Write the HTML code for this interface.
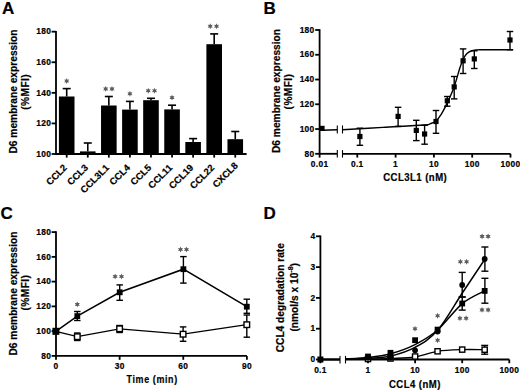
<!DOCTYPE html>
<html><head><meta charset="utf-8"><style>
html,body{margin:0;padding:0;background:#fff;}
svg{display:block;}
text{font-family:"Liberation Sans", sans-serif;font-weight:bold;fill:#000;stroke:#000;stroke-width:0.2px;}
</style></head><body>
<svg width="520" height="390" viewBox="0 0 520 390">
<rect width="520" height="390" fill="#fff"/>
<text x="0" y="0" font-size="17" text-anchor="start" font-weight="bold" transform="translate(2.00,13.60) scale(1.0,1.0)">A</text>
<text x="0" y="0" font-size="17" text-anchor="start" font-weight="bold" transform="translate(263.50,14.20) scale(1.0,1.0)">B</text>
<text x="0" y="0" font-size="17" text-anchor="start" font-weight="bold" transform="translate(0.50,218.90) scale(1.0,1.0)">C</text>
<text x="0" y="0" font-size="17" text-anchor="start" font-weight="bold" transform="translate(263.50,218.80) scale(1.0,1.0)">D</text>
<line x1="56.00" y1="30.88" x2="56.00" y2="154.80" stroke="#000" stroke-width="1.8"/>
<line x1="51.60" y1="154.00" x2="56.00" y2="154.00" stroke="#000" stroke-width="1.8"/>
<text x="0" y="0" font-size="8.4" text-anchor="end" letter-spacing="0.3"  transform="translate(51.10,156.70) scale(1.0,1.0)">100</text>
<line x1="51.60" y1="123.42" x2="56.00" y2="123.42" stroke="#000" stroke-width="1.8"/>
<text x="0" y="0" font-size="8.4" text-anchor="end" letter-spacing="0.3"  transform="translate(51.10,126.12) scale(1.0,1.0)">120</text>
<line x1="51.60" y1="92.84" x2="56.00" y2="92.84" stroke="#000" stroke-width="1.8"/>
<text x="0" y="0" font-size="8.4" text-anchor="end" letter-spacing="0.3"  transform="translate(51.10,95.54) scale(1.0,1.0)">140</text>
<line x1="51.60" y1="62.26" x2="56.00" y2="62.26" stroke="#000" stroke-width="1.8"/>
<text x="0" y="0" font-size="8.4" text-anchor="end" letter-spacing="0.3"  transform="translate(51.10,64.96) scale(1.0,1.0)">160</text>
<line x1="51.60" y1="31.68" x2="56.00" y2="31.68" stroke="#000" stroke-width="1.8"/>
<text x="0" y="0" font-size="8.4" text-anchor="end" letter-spacing="0.3"  transform="translate(51.10,34.38) scale(1.0,1.0)">180</text>
<line x1="56.00" y1="154.00" x2="246.60" y2="154.00" stroke="#000" stroke-width="1.8"/>
<rect x="58.90" y="96.50" width="15.60" height="57.50" fill="#000"/>
<line x1="66.70" y1="96.50" x2="66.70" y2="88.60" stroke="#000" stroke-width="1.6"/>
<line x1="62.70" y1="88.60" x2="70.70" y2="88.60" stroke="#000" stroke-width="1.6"/>
<line x1="66.70" y1="154.00" x2="66.70" y2="157.60" stroke="#000" stroke-width="1.8"/>
<polygon points="66.70,78.05 67.45,79.70 69.25,79.53 68.20,81.00 69.25,82.47 67.45,82.30 66.70,83.95 65.95,82.30 64.15,82.47 65.20,81.00 64.15,79.53 65.95,79.70" fill="#5c5c5c"/>
<text x="0" y="0" font-size="9.5" text-anchor="end" transform="translate(67.60,168.30) rotate(-45)">CCL2</text>
<rect x="79.97" y="151.40" width="15.60" height="2.60" fill="#000"/>
<line x1="87.77" y1="151.40" x2="87.77" y2="143.00" stroke="#000" stroke-width="1.6"/>
<line x1="83.77" y1="143.00" x2="91.77" y2="143.00" stroke="#000" stroke-width="1.6"/>
<line x1="87.77" y1="154.00" x2="87.77" y2="157.60" stroke="#000" stroke-width="1.8"/>
<text x="0" y="0" font-size="9.5" text-anchor="end" transform="translate(88.67,168.30) rotate(-45)">CCL3</text>
<rect x="101.04" y="105.50" width="15.60" height="48.50" fill="#000"/>
<line x1="108.84" y1="105.50" x2="108.84" y2="96.50" stroke="#000" stroke-width="1.6"/>
<line x1="104.84" y1="96.50" x2="112.84" y2="96.50" stroke="#000" stroke-width="1.6"/>
<line x1="108.84" y1="154.00" x2="108.84" y2="157.60" stroke="#000" stroke-width="1.8"/>
<polygon points="105.69,85.95 106.44,87.60 108.24,87.43 107.19,88.90 108.24,90.38 106.44,90.20 105.69,91.85 104.94,90.20 103.14,90.38 104.19,88.90 103.14,87.43 104.94,87.60" fill="#5c5c5c"/>
<polygon points="111.99,85.95 112.74,87.60 114.54,87.43 113.49,88.90 114.54,90.38 112.74,90.20 111.99,91.85 111.24,90.20 109.44,90.38 110.49,88.90 109.44,87.43 111.24,87.60" fill="#5c5c5c"/>
<text x="0" y="0" font-size="9.5" text-anchor="end" transform="translate(109.74,168.30) rotate(-45)">CCL3L1</text>
<rect x="122.11" y="109.60" width="15.60" height="44.40" fill="#000"/>
<line x1="129.91" y1="109.60" x2="129.91" y2="101.40" stroke="#000" stroke-width="1.6"/>
<line x1="125.91" y1="101.40" x2="133.91" y2="101.40" stroke="#000" stroke-width="1.6"/>
<line x1="129.91" y1="154.00" x2="129.91" y2="157.60" stroke="#000" stroke-width="1.8"/>
<polygon points="129.91,90.85 130.66,92.50 132.46,92.33 131.41,93.80 132.46,95.28 130.66,95.10 129.91,96.75 129.16,95.10 127.36,95.28 128.41,93.80 127.36,92.33 129.16,92.50" fill="#5c5c5c"/>
<text x="0" y="0" font-size="9.5" text-anchor="end" transform="translate(130.81,168.30) rotate(-45)">CCL4</text>
<rect x="143.18" y="100.20" width="15.60" height="53.80" fill="#000"/>
<line x1="150.98" y1="100.20" x2="150.98" y2="98.30" stroke="#000" stroke-width="1.6"/>
<line x1="146.98" y1="98.30" x2="154.98" y2="98.30" stroke="#000" stroke-width="1.6"/>
<line x1="150.98" y1="154.00" x2="150.98" y2="157.60" stroke="#000" stroke-width="1.8"/>
<polygon points="148.23,87.75 148.98,89.40 150.78,89.23 149.73,90.70 150.78,92.17 148.98,92.00 148.23,93.65 147.48,92.00 145.68,92.17 146.73,90.70 145.68,89.23 147.48,89.40" fill="#5c5c5c"/>
<polygon points="154.53,87.75 155.28,89.40 157.08,89.23 156.03,90.70 157.08,92.17 155.28,92.00 154.53,93.65 153.78,92.00 151.98,92.17 153.03,90.70 151.98,89.23 153.78,89.40" fill="#5c5c5c"/>
<text x="0" y="0" font-size="9.5" text-anchor="end" transform="translate(151.88,168.30) rotate(-45)">CCL5</text>
<rect x="164.25" y="109.40" width="15.60" height="44.60" fill="#000"/>
<line x1="172.05" y1="109.40" x2="172.05" y2="105.20" stroke="#000" stroke-width="1.6"/>
<line x1="168.05" y1="105.20" x2="176.05" y2="105.20" stroke="#000" stroke-width="1.6"/>
<line x1="172.05" y1="154.00" x2="172.05" y2="157.60" stroke="#000" stroke-width="1.8"/>
<polygon points="172.05,94.65 172.80,96.30 174.60,96.13 173.55,97.60 174.60,99.08 172.80,98.90 172.05,100.55 171.30,98.90 169.50,99.08 170.55,97.60 169.50,96.13 171.30,96.30" fill="#5c5c5c"/>
<text x="0" y="0" font-size="9.5" text-anchor="end" transform="translate(172.95,168.30) rotate(-45)">CCL11</text>
<rect x="185.32" y="142.00" width="15.60" height="12.00" fill="#000"/>
<line x1="193.12" y1="142.00" x2="193.12" y2="138.60" stroke="#000" stroke-width="1.6"/>
<line x1="189.12" y1="138.60" x2="197.12" y2="138.60" stroke="#000" stroke-width="1.6"/>
<line x1="193.12" y1="154.00" x2="193.12" y2="157.60" stroke="#000" stroke-width="1.8"/>
<text x="0" y="0" font-size="9.5" text-anchor="end" transform="translate(194.02,168.30) rotate(-45)">CCL19</text>
<rect x="206.39" y="44.20" width="15.60" height="109.80" fill="#000"/>
<line x1="214.19" y1="44.20" x2="214.19" y2="33.90" stroke="#000" stroke-width="1.6"/>
<line x1="210.19" y1="33.90" x2="218.19" y2="33.90" stroke="#000" stroke-width="1.6"/>
<line x1="214.19" y1="154.00" x2="214.19" y2="157.60" stroke="#000" stroke-width="1.8"/>
<polygon points="210.24,23.35 210.99,25.00 212.79,24.82 211.74,26.30 212.79,27.77 210.99,27.60 210.24,29.25 209.49,27.60 207.69,27.77 208.74,26.30 207.69,24.82 209.49,25.00" fill="#5c5c5c"/>
<polygon points="216.54,23.35 217.29,25.00 219.09,24.82 218.04,26.30 219.09,27.77 217.29,27.60 216.54,29.25 215.79,27.60 213.99,27.77 215.04,26.30 213.99,24.82 215.79,25.00" fill="#5c5c5c"/>
<text x="0" y="0" font-size="9.5" text-anchor="end" transform="translate(215.09,168.30) rotate(-45)">CCL22</text>
<rect x="227.46" y="139.20" width="15.60" height="14.80" fill="#000"/>
<line x1="235.26" y1="139.20" x2="235.26" y2="131.50" stroke="#000" stroke-width="1.6"/>
<line x1="231.26" y1="131.50" x2="239.26" y2="131.50" stroke="#000" stroke-width="1.6"/>
<line x1="235.26" y1="154.00" x2="235.26" y2="157.60" stroke="#000" stroke-width="1.8"/>
<text x="0" y="0" font-size="9.5" text-anchor="end" transform="translate(238.46,166.30) rotate(-45)">CXCL8</text>
<text x="0" y="0" font-size="10.2" text-anchor="middle" transform="translate(17.00,91.50) rotate(-90) scale(1,1.0)">D6 membrane expression</text>
<text x="0" y="0" font-size="10.2" text-anchor="middle" letter-spacing="0.4" transform="translate(29.30,91.80) rotate(-90) scale(1,1.0)">(%MFI)</text>
<line x1="319.60" y1="29.20" x2="319.60" y2="154.60" stroke="#000" stroke-width="1.8"/>
<line x1="315.20" y1="153.80" x2="319.60" y2="153.80" stroke="#000" stroke-width="1.8"/>
<text x="0" y="0" font-size="8.4" text-anchor="end" letter-spacing="0.3"  transform="translate(314.50,156.50) scale(1.0,1.0)">80</text>
<line x1="315.20" y1="129.04" x2="319.60" y2="129.04" stroke="#000" stroke-width="1.8"/>
<text x="0" y="0" font-size="8.4" text-anchor="end" letter-spacing="0.3"  transform="translate(314.50,131.74) scale(1.0,1.0)">100</text>
<line x1="315.20" y1="104.28" x2="319.60" y2="104.28" stroke="#000" stroke-width="1.8"/>
<text x="0" y="0" font-size="8.4" text-anchor="end" letter-spacing="0.3"  transform="translate(314.50,106.98) scale(1.0,1.0)">120</text>
<line x1="315.20" y1="79.52" x2="319.60" y2="79.52" stroke="#000" stroke-width="1.8"/>
<text x="0" y="0" font-size="8.4" text-anchor="end" letter-spacing="0.3"  transform="translate(314.50,82.22) scale(1.0,1.0)">140</text>
<line x1="315.20" y1="54.76" x2="319.60" y2="54.76" stroke="#000" stroke-width="1.8"/>
<text x="0" y="0" font-size="8.4" text-anchor="end" letter-spacing="0.3"  transform="translate(314.50,57.46) scale(1.0,1.0)">160</text>
<line x1="315.20" y1="30.00" x2="319.60" y2="30.00" stroke="#000" stroke-width="1.8"/>
<text x="0" y="0" font-size="8.4" text-anchor="end" letter-spacing="0.3"  transform="translate(314.50,32.70) scale(1.0,1.0)">180</text>
<line x1="319.60" y1="153.80" x2="337.30" y2="153.80" stroke="#000" stroke-width="1.8"/>
<line x1="342.50" y1="153.80" x2="510.50" y2="153.80" stroke="#000" stroke-width="1.8"/>
<line x1="337.30" y1="150.10" x2="337.30" y2="157.60" stroke="#000" stroke-width="1.1"/>
<line x1="342.50" y1="150.10" x2="342.50" y2="157.60" stroke="#000" stroke-width="1.1"/>
<line x1="319.60" y1="153.80" x2="319.60" y2="157.60" stroke="#000" stroke-width="1.8"/>
<text x="0" y="0" font-size="8.4" text-anchor="middle" letter-spacing="0.3"  transform="translate(319.60,166.90) scale(1.0,1.0)">0.01</text>
<line x1="357.30" y1="153.80" x2="357.30" y2="157.60" stroke="#000" stroke-width="1.8"/>
<text x="0" y="0" font-size="8.4" text-anchor="middle" letter-spacing="0.3"  transform="translate(357.30,166.90) scale(1.0,1.0)">0.1</text>
<line x1="395.60" y1="153.80" x2="395.60" y2="157.60" stroke="#000" stroke-width="1.8"/>
<text x="0" y="0" font-size="8.4" text-anchor="middle" letter-spacing="0.3"  transform="translate(395.60,166.90) scale(1.0,1.0)">1</text>
<line x1="433.90" y1="153.80" x2="433.90" y2="157.60" stroke="#000" stroke-width="1.8"/>
<text x="0" y="0" font-size="8.4" text-anchor="middle" letter-spacing="0.3"  transform="translate(433.90,166.90) scale(1.0,1.0)">10</text>
<line x1="472.20" y1="153.80" x2="472.20" y2="157.60" stroke="#000" stroke-width="1.8"/>
<text x="0" y="0" font-size="8.4" text-anchor="middle" letter-spacing="0.3"  transform="translate(472.20,166.90) scale(1.0,1.0)">100</text>
<line x1="510.50" y1="153.80" x2="510.50" y2="157.60" stroke="#000" stroke-width="1.8"/>
<text x="0" y="0" font-size="8.4" text-anchor="middle" letter-spacing="0.3"  transform="translate(510.50,166.90) scale(1.0,1.0)">1000</text>
<text x="0" y="0" font-size="10.3" text-anchor="middle" letter-spacing="0.5"  transform="translate(415.20,181.20) scale(0.93,1.0)">CCL3L1 (nM)</text>
<text x="0" y="0" font-size="10.2" text-anchor="middle" transform="translate(279.80,91.00) rotate(-90) scale(1,1.0)">D6 membrane expression</text>
<text x="0" y="0" font-size="10.2" text-anchor="middle" letter-spacing="0.4" transform="translate(292.20,91.50) rotate(-90) scale(1,1.0)">(%MFI)</text>
<path d="M322,130.2 L337.3,129.8" stroke="#000" stroke-width="1.4" fill="none"/>
<path d="M342.50,129.80 C349.25,129.40 369.42,128.20 383.00,127.40 C396.58,126.60 416.08,125.63 424.00,125.00 C431.92,124.37 428.50,124.27 430.50,123.60 C432.50,122.93 434.17,122.63 436.00,121.00 C437.83,119.37 439.67,116.73 441.50,113.80 C443.33,110.87 444.92,107.83 447.00,103.40 C449.08,98.97 451.83,93.18 454.00,87.20 C456.17,81.22 458.42,72.28 460.00,67.50 C461.58,62.72 462.33,60.82 463.50,58.50 C464.67,56.18 465.75,54.85 467.00,53.60 C468.25,52.35 469.50,51.62 471.00,51.00 C472.50,50.38 473.83,50.12 476.00,49.90 C478.17,49.68 477.83,49.73 484.00,49.70 C490.17,49.67 508.17,49.70 513.00,49.70" stroke="#000" stroke-width="1.4" fill="none"/>
<line x1="337.30" y1="125.40" x2="337.30" y2="133.50" stroke="#000" stroke-width="1.1"/>
<line x1="342.50" y1="125.40" x2="342.50" y2="133.50" stroke="#000" stroke-width="1.1"/>
<line x1="359.90" y1="128.20" x2="359.90" y2="145.30" stroke="#000" stroke-width="1.4"/>
<line x1="356.65" y1="128.20" x2="363.15" y2="128.20" stroke="#000" stroke-width="1.4"/>
<line x1="356.65" y1="145.30" x2="363.15" y2="145.30" stroke="#000" stroke-width="1.4"/>
<rect x="357.30" y="133.90" width="5.20" height="5.20" fill="#000"/>
<line x1="398.10" y1="107.30" x2="398.10" y2="126.40" stroke="#000" stroke-width="1.4"/>
<line x1="394.85" y1="107.30" x2="401.35" y2="107.30" stroke="#000" stroke-width="1.4"/>
<line x1="394.85" y1="126.40" x2="401.35" y2="126.40" stroke="#000" stroke-width="1.4"/>
<rect x="395.50" y="113.80" width="5.20" height="5.20" fill="#000"/>
<line x1="416.30" y1="120.30" x2="416.30" y2="140.60" stroke="#000" stroke-width="1.4"/>
<line x1="413.05" y1="120.30" x2="419.55" y2="120.30" stroke="#000" stroke-width="1.4"/>
<line x1="413.05" y1="140.60" x2="419.55" y2="140.60" stroke="#000" stroke-width="1.4"/>
<rect x="413.70" y="127.80" width="5.20" height="5.20" fill="#000"/>
<line x1="424.60" y1="125.30" x2="424.60" y2="144.20" stroke="#000" stroke-width="1.4"/>
<line x1="421.35" y1="125.30" x2="427.85" y2="125.30" stroke="#000" stroke-width="1.4"/>
<line x1="421.35" y1="144.20" x2="427.85" y2="144.20" stroke="#000" stroke-width="1.4"/>
<rect x="422.00" y="131.40" width="5.20" height="5.20" fill="#000"/>
<line x1="436.00" y1="110.50" x2="436.00" y2="133.30" stroke="#000" stroke-width="1.4"/>
<line x1="432.75" y1="110.50" x2="439.25" y2="110.50" stroke="#000" stroke-width="1.4"/>
<line x1="432.75" y1="133.30" x2="439.25" y2="133.30" stroke="#000" stroke-width="1.4"/>
<rect x="433.40" y="118.90" width="5.20" height="5.20" fill="#000"/>
<line x1="447.30" y1="96.50" x2="447.30" y2="106.20" stroke="#000" stroke-width="1.4"/>
<line x1="444.05" y1="96.50" x2="450.55" y2="96.50" stroke="#000" stroke-width="1.4"/>
<line x1="444.05" y1="106.20" x2="450.55" y2="106.20" stroke="#000" stroke-width="1.4"/>
<rect x="444.70" y="98.20" width="5.20" height="5.20" fill="#000"/>
<line x1="454.20" y1="76.50" x2="454.20" y2="98.90" stroke="#000" stroke-width="1.4"/>
<line x1="450.95" y1="76.50" x2="457.45" y2="76.50" stroke="#000" stroke-width="1.4"/>
<line x1="450.95" y1="98.90" x2="457.45" y2="98.90" stroke="#000" stroke-width="1.4"/>
<rect x="451.60" y="84.30" width="5.20" height="5.20" fill="#000"/>
<line x1="463.10" y1="48.90" x2="463.10" y2="73.50" stroke="#000" stroke-width="1.4"/>
<line x1="459.85" y1="48.90" x2="466.35" y2="48.90" stroke="#000" stroke-width="1.4"/>
<line x1="459.85" y1="73.50" x2="466.35" y2="73.50" stroke="#000" stroke-width="1.4"/>
<rect x="460.50" y="58.20" width="5.20" height="5.20" fill="#000"/>
<line x1="474.30" y1="50.80" x2="474.30" y2="68.50" stroke="#000" stroke-width="1.4"/>
<line x1="471.05" y1="50.80" x2="477.55" y2="50.80" stroke="#000" stroke-width="1.4"/>
<line x1="471.05" y1="68.50" x2="477.55" y2="68.50" stroke="#000" stroke-width="1.4"/>
<rect x="471.70" y="56.30" width="5.20" height="5.20" fill="#000"/>
<line x1="510.00" y1="31.50" x2="510.00" y2="49.70" stroke="#000" stroke-width="1.4"/>
<line x1="506.75" y1="31.50" x2="513.25" y2="31.50" stroke="#000" stroke-width="1.4"/>
<line x1="506.75" y1="49.70" x2="513.25" y2="49.70" stroke="#000" stroke-width="1.4"/>
<rect x="507.40" y="37.40" width="5.20" height="5.20" fill="#000"/>
<rect x="319.40" y="125.80" width="5.20" height="5.20" fill="#000"/>
<line x1="56.00" y1="231.30" x2="56.00" y2="356.70" stroke="#000" stroke-width="1.8"/>
<line x1="51.60" y1="355.90" x2="56.00" y2="355.90" stroke="#000" stroke-width="1.8"/>
<text x="0" y="0" font-size="8.4" text-anchor="end" letter-spacing="0.3"  transform="translate(51.20,358.60) scale(1.0,1.0)">80</text>
<line x1="51.60" y1="331.14" x2="56.00" y2="331.14" stroke="#000" stroke-width="1.8"/>
<text x="0" y="0" font-size="8.4" text-anchor="end" letter-spacing="0.3"  transform="translate(51.20,333.84) scale(1.0,1.0)">100</text>
<line x1="51.60" y1="306.38" x2="56.00" y2="306.38" stroke="#000" stroke-width="1.8"/>
<text x="0" y="0" font-size="8.4" text-anchor="end" letter-spacing="0.3"  transform="translate(51.20,309.08) scale(1.0,1.0)">120</text>
<line x1="51.60" y1="281.62" x2="56.00" y2="281.62" stroke="#000" stroke-width="1.8"/>
<text x="0" y="0" font-size="8.4" text-anchor="end" letter-spacing="0.3"  transform="translate(51.20,284.32) scale(1.0,1.0)">140</text>
<line x1="51.60" y1="256.86" x2="56.00" y2="256.86" stroke="#000" stroke-width="1.8"/>
<text x="0" y="0" font-size="8.4" text-anchor="end" letter-spacing="0.3"  transform="translate(51.20,259.56) scale(1.0,1.0)">160</text>
<line x1="51.60" y1="232.10" x2="56.00" y2="232.10" stroke="#000" stroke-width="1.8"/>
<text x="0" y="0" font-size="8.4" text-anchor="end" letter-spacing="0.3"  transform="translate(51.20,234.80) scale(1.0,1.0)">180</text>
<line x1="56.00" y1="355.90" x2="246.90" y2="355.90" stroke="#000" stroke-width="1.8"/>
<line x1="56.00" y1="355.90" x2="56.00" y2="359.80" stroke="#000" stroke-width="1.8"/>
<text x="0" y="0" font-size="8.4" text-anchor="middle" letter-spacing="0.3"  transform="translate(56.00,369.00) scale(1.0,1.0)">0</text>
<line x1="119.63" y1="355.90" x2="119.63" y2="359.80" stroke="#000" stroke-width="1.8"/>
<text x="0" y="0" font-size="8.4" text-anchor="middle" letter-spacing="0.3"  transform="translate(119.63,369.00) scale(1.0,1.0)">30</text>
<line x1="183.27" y1="355.90" x2="183.27" y2="359.80" stroke="#000" stroke-width="1.8"/>
<text x="0" y="0" font-size="8.4" text-anchor="middle" letter-spacing="0.3"  transform="translate(183.27,369.00) scale(1.0,1.0)">60</text>
<line x1="246.90" y1="355.90" x2="246.90" y2="359.80" stroke="#000" stroke-width="1.8"/>
<text x="0" y="0" font-size="8.4" text-anchor="middle" letter-spacing="0.3"  transform="translate(246.90,369.00) scale(1.0,1.0)">90</text>
<text x="0" y="0" font-size="10.4" text-anchor="middle" letter-spacing="0.72"  transform="translate(152.20,383.10) scale(0.86,1.0)">Time (min)</text>
<text x="0" y="0" font-size="10.2" text-anchor="middle" transform="translate(17.00,293.50) rotate(-90) scale(1,1.0)">D6 membrane expression</text>
<text x="0" y="0" font-size="10.2" text-anchor="middle" letter-spacing="0.4" transform="translate(29.30,292.60) rotate(-90) scale(1,1.0)">(%MFI)</text>
<polyline points="55.9,331.3 77.3,336.7 119.6,328.8 183.1,334.2 246.8,324.7" stroke="#000" stroke-width="1.3" fill="none"/>
<polyline points="55.9,331.3 77.3,316.1 119.7,292.3 183.4,269.2 246.8,306.7" stroke="#000" stroke-width="1.5" fill="none"/>
<line x1="77.30" y1="333.00" x2="77.30" y2="340.50" stroke="#000" stroke-width="1.4"/>
<line x1="74.05" y1="333.00" x2="80.55" y2="333.00" stroke="#000" stroke-width="1.4"/>
<line x1="74.05" y1="340.50" x2="80.55" y2="340.50" stroke="#000" stroke-width="1.4"/>
<line x1="119.60" y1="325.50" x2="119.60" y2="332.50" stroke="#000" stroke-width="1.4"/>
<line x1="116.35" y1="325.50" x2="122.85" y2="325.50" stroke="#000" stroke-width="1.4"/>
<line x1="116.35" y1="332.50" x2="122.85" y2="332.50" stroke="#000" stroke-width="1.4"/>
<line x1="183.10" y1="326.90" x2="183.10" y2="341.30" stroke="#000" stroke-width="1.4"/>
<line x1="179.85" y1="326.90" x2="186.35" y2="326.90" stroke="#000" stroke-width="1.4"/>
<line x1="179.85" y1="341.30" x2="186.35" y2="341.30" stroke="#000" stroke-width="1.4"/>
<line x1="246.80" y1="315.00" x2="246.80" y2="337.20" stroke="#000" stroke-width="1.4"/>
<line x1="243.55" y1="315.00" x2="250.05" y2="315.00" stroke="#000" stroke-width="1.4"/>
<line x1="243.55" y1="337.20" x2="250.05" y2="337.20" stroke="#000" stroke-width="1.4"/>
<line x1="77.30" y1="311.50" x2="77.30" y2="320.50" stroke="#000" stroke-width="1.4"/>
<line x1="74.05" y1="311.50" x2="80.55" y2="311.50" stroke="#000" stroke-width="1.4"/>
<line x1="74.05" y1="320.50" x2="80.55" y2="320.50" stroke="#000" stroke-width="1.4"/>
<line x1="119.70" y1="284.90" x2="119.70" y2="300.30" stroke="#000" stroke-width="1.4"/>
<line x1="116.45" y1="284.90" x2="122.95" y2="284.90" stroke="#000" stroke-width="1.4"/>
<line x1="116.45" y1="300.30" x2="122.95" y2="300.30" stroke="#000" stroke-width="1.4"/>
<line x1="183.40" y1="256.60" x2="183.40" y2="283.10" stroke="#000" stroke-width="1.4"/>
<line x1="180.15" y1="256.60" x2="186.65" y2="256.60" stroke="#000" stroke-width="1.4"/>
<line x1="180.15" y1="283.10" x2="186.65" y2="283.10" stroke="#000" stroke-width="1.4"/>
<line x1="246.80" y1="299.20" x2="246.80" y2="313.30" stroke="#000" stroke-width="1.4"/>
<line x1="243.55" y1="299.20" x2="250.05" y2="299.20" stroke="#000" stroke-width="1.4"/>
<line x1="243.55" y1="313.30" x2="250.05" y2="313.30" stroke="#000" stroke-width="1.4"/>
<rect x="53.10" y="328.50" width="5.60" height="5.60" fill="#fff" stroke="#000" stroke-width="1.4"/>
<rect x="74.50" y="333.90" width="5.60" height="5.60" fill="#fff" stroke="#000" stroke-width="1.4"/>
<rect x="116.80" y="326.00" width="5.60" height="5.60" fill="#fff" stroke="#000" stroke-width="1.4"/>
<rect x="180.30" y="331.40" width="5.60" height="5.60" fill="#fff" stroke="#000" stroke-width="1.4"/>
<rect x="244.00" y="321.90" width="5.60" height="5.60" fill="#fff" stroke="#000" stroke-width="1.4"/>
<rect x="53.00" y="328.40" width="5.80" height="5.80" fill="#000"/>
<rect x="74.40" y="313.20" width="5.80" height="5.80" fill="#000"/>
<rect x="116.80" y="289.40" width="5.80" height="5.80" fill="#000"/>
<rect x="180.50" y="266.30" width="5.80" height="5.80" fill="#000"/>
<rect x="243.90" y="303.80" width="5.80" height="5.80" fill="#000"/>
<polygon points="77.30,301.45 78.05,303.10 79.85,302.92 78.80,304.40 79.85,305.88 78.05,305.70 77.30,307.35 76.55,305.70 74.75,305.88 75.80,304.40 74.75,302.92 76.55,303.10" fill="#5c5c5c"/>
<polygon points="115.10,273.55 115.85,275.20 117.65,275.02 116.60,276.50 117.65,277.98 115.85,277.80 115.10,279.45 114.35,277.80 112.55,277.98 113.60,276.50 112.55,275.02 114.35,275.20" fill="#5c5c5c"/>
<polygon points="121.50,273.55 122.25,275.20 124.05,275.02 123.00,276.50 124.05,277.98 122.25,277.80 121.50,279.45 120.75,277.80 118.95,277.98 120.00,276.50 118.95,275.02 120.75,275.20" fill="#5c5c5c"/>
<polygon points="180.50,246.55 181.25,248.20 183.05,248.03 182.00,249.50 183.05,250.97 181.25,250.80 180.50,252.45 179.75,250.80 177.95,250.97 179.00,249.50 177.95,248.03 179.75,248.20" fill="#5c5c5c"/>
<polygon points="186.50,246.55 187.25,248.20 189.05,248.03 188.00,249.50 189.05,250.97 187.25,250.80 186.50,252.45 185.75,250.80 183.95,250.97 185.00,249.50 183.95,248.03 185.75,248.20" fill="#5c5c5c"/>
<line x1="320.40" y1="235.50" x2="320.40" y2="360.30" stroke="#000" stroke-width="1.8"/>
<line x1="316.00" y1="359.50" x2="320.40" y2="359.50" stroke="#000" stroke-width="1.8"/>
<text x="0" y="0" font-size="8.4" text-anchor="end" letter-spacing="0.3"  transform="translate(315.40,362.20) scale(1.0,1.0)">0</text>
<line x1="316.00" y1="328.70" x2="320.40" y2="328.70" stroke="#000" stroke-width="1.8"/>
<text x="0" y="0" font-size="8.4" text-anchor="end" letter-spacing="0.3"  transform="translate(315.40,331.40) scale(1.0,1.0)">1</text>
<line x1="316.00" y1="297.90" x2="320.40" y2="297.90" stroke="#000" stroke-width="1.8"/>
<text x="0" y="0" font-size="8.4" text-anchor="end" letter-spacing="0.3"  transform="translate(315.40,300.60) scale(1.0,1.0)">2</text>
<line x1="316.00" y1="267.10" x2="320.40" y2="267.10" stroke="#000" stroke-width="1.8"/>
<text x="0" y="0" font-size="8.4" text-anchor="end" letter-spacing="0.3"  transform="translate(315.40,269.80) scale(1.0,1.0)">3</text>
<line x1="316.00" y1="236.30" x2="320.40" y2="236.30" stroke="#000" stroke-width="1.8"/>
<text x="0" y="0" font-size="8.4" text-anchor="end" letter-spacing="0.3"  transform="translate(315.40,239.00) scale(1.0,1.0)">4</text>
<line x1="320.40" y1="359.50" x2="340.00" y2="359.50" stroke="#000" stroke-width="1.8"/>
<line x1="345.30" y1="359.50" x2="509.30" y2="359.50" stroke="#000" stroke-width="1.8"/>
<line x1="340.00" y1="355.90" x2="340.00" y2="363.50" stroke="#000" stroke-width="1.1"/>
<line x1="345.50" y1="355.90" x2="345.50" y2="363.50" stroke="#000" stroke-width="1.1"/>
<line x1="320.40" y1="359.50" x2="320.40" y2="363.20" stroke="#000" stroke-width="1.8"/>
<text x="0" y="0" font-size="8.4" text-anchor="middle" letter-spacing="0.3"  transform="translate(320.40,373.00) scale(1.0,1.0)">0.1</text>
<line x1="368.00" y1="359.50" x2="368.00" y2="363.20" stroke="#000" stroke-width="1.8"/>
<text x="0" y="0" font-size="8.4" text-anchor="middle" letter-spacing="0.3"  transform="translate(368.00,373.00) scale(1.0,1.0)">1</text>
<line x1="415.10" y1="359.50" x2="415.10" y2="363.20" stroke="#000" stroke-width="1.8"/>
<text x="0" y="0" font-size="8.4" text-anchor="middle" letter-spacing="0.3"  transform="translate(415.10,373.00) scale(1.0,1.0)">10</text>
<line x1="462.20" y1="359.50" x2="462.20" y2="363.20" stroke="#000" stroke-width="1.8"/>
<text x="0" y="0" font-size="8.4" text-anchor="middle" letter-spacing="0.3"  transform="translate(462.20,373.00) scale(1.0,1.0)">100</text>
<line x1="509.30" y1="359.50" x2="509.30" y2="363.20" stroke="#000" stroke-width="1.8"/>
<text x="0" y="0" font-size="8.4" text-anchor="middle" letter-spacing="0.3"  transform="translate(509.30,373.00) scale(1.0,1.0)">1000</text>
<text x="0" y="0" font-size="10.3" text-anchor="middle" letter-spacing="0.5"  transform="translate(414.90,387.80) scale(0.93,1.0)">CCL4 (nM)</text>
<text x="0" y="0" font-size="10.2" text-anchor="middle" transform="translate(284.30,297.70) rotate(-90) scale(1,1.0)">CCL4 degradation rate</text>
<text x="0" y="0" font-size="10.2" text-anchor="middle" transform="translate(297.90,297.30) rotate(-90) scale(1,1.0)">(nmol/s x 10<tspan font-size="7" dy="-5.3">-8</tspan><tspan dy="5.3">)</tspan></text>
<path d="M345.30,359.20 C349.08,359.07 360.47,358.93 368.00,358.40 C375.53,357.87 382.67,357.85 390.50,356.00 C398.33,354.15 407.15,351.58 415.00,347.30 C422.85,343.02 429.77,339.27 437.60,330.30 C445.43,321.33 454.10,305.38 462.00,293.50 C469.90,281.62 481.17,264.75 485.00,259.00" stroke="#000" stroke-width="1.5" fill="none"/>
<path d="M345.30,359.00 C349.08,358.77 360.47,358.47 368.00,357.60 C375.53,356.73 382.67,355.97 390.50,353.80 C398.33,351.63 407.15,348.57 415.00,344.60 C422.85,340.63 429.72,336.83 437.60,330.00 C445.48,323.17 454.43,310.13 462.30,303.60 C470.17,297.07 481.05,292.93 484.80,290.80" stroke="#000" stroke-width="1.5" fill="none"/>
<path d="M345.30,359.40 C349.08,359.37 360.47,359.35 368.00,359.20 C375.53,359.05 382.67,358.87 390.50,358.50 C398.33,358.13 407.15,358.20 415.00,357.00 C422.85,355.80 429.72,352.53 437.60,351.30 C445.48,350.07 454.45,349.87 462.30,349.60 C470.15,349.33 480.97,349.68 484.70,349.70" stroke="#000" stroke-width="1.3" fill="none"/>
<path d="M320.4,359.5 L340,359.5" stroke="#000" stroke-width="2.2"/>
<line x1="462.20" y1="272.40" x2="462.20" y2="297.00" stroke="#000" stroke-width="1.4"/>
<line x1="458.70" y1="272.40" x2="465.70" y2="272.40" stroke="#000" stroke-width="1.4"/>
<line x1="458.70" y1="297.00" x2="465.70" y2="297.00" stroke="#000" stroke-width="1.4"/>
<line x1="484.90" y1="247.00" x2="484.90" y2="271.20" stroke="#000" stroke-width="1.4"/>
<line x1="481.40" y1="247.00" x2="488.40" y2="247.00" stroke="#000" stroke-width="1.4"/>
<line x1="481.40" y1="271.20" x2="488.40" y2="271.20" stroke="#000" stroke-width="1.4"/>
<line x1="462.20" y1="297.00" x2="462.20" y2="310.10" stroke="#000" stroke-width="1.4"/>
<line x1="458.70" y1="297.00" x2="465.70" y2="297.00" stroke="#000" stroke-width="1.4"/>
<line x1="458.70" y1="310.10" x2="465.70" y2="310.10" stroke="#000" stroke-width="1.4"/>
<line x1="484.90" y1="278.30" x2="484.90" y2="303.20" stroke="#000" stroke-width="1.4"/>
<line x1="481.40" y1="278.30" x2="488.40" y2="278.30" stroke="#000" stroke-width="1.4"/>
<line x1="481.40" y1="303.20" x2="488.40" y2="303.20" stroke="#000" stroke-width="1.4"/>
<line x1="484.70" y1="345.40" x2="484.70" y2="354.20" stroke="#000" stroke-width="1.4"/>
<line x1="481.20" y1="345.40" x2="488.20" y2="345.40" stroke="#000" stroke-width="1.4"/>
<line x1="481.20" y1="354.20" x2="488.20" y2="354.20" stroke="#000" stroke-width="1.4"/>
<rect x="365.40" y="356.40" width="5.20" height="5.20" fill="#fff" stroke="#000" stroke-width="1.4"/>
<rect x="387.87" y="355.90" width="5.20" height="5.20" fill="#fff" stroke="#000" stroke-width="1.4"/>
<rect x="412.50" y="353.90" width="5.20" height="5.20" fill="#fff" stroke="#000" stroke-width="1.4"/>
<rect x="434.97" y="348.70" width="5.20" height="5.20" fill="#fff" stroke="#000" stroke-width="1.4"/>
<rect x="459.60" y="347.00" width="5.20" height="5.20" fill="#fff" stroke="#000" stroke-width="1.4"/>
<rect x="482.07" y="347.10" width="5.20" height="5.20" fill="#fff" stroke="#000" stroke-width="1.4"/>
<circle cx="368.00" cy="357.80" r="2.9" fill="#000"/>
<circle cx="390.47" cy="357.80" r="2.9" fill="#000"/>
<circle cx="415.10" cy="350.30" r="2.9" fill="#000"/>
<circle cx="437.57" cy="331.60" r="2.9" fill="#000"/>
<circle cx="462.20" cy="285.00" r="2.9" fill="#000"/>
<circle cx="484.67" cy="259.00" r="2.9" fill="#000"/>
<rect x="365.10" y="353.60" width="5.80" height="5.80" fill="#000"/>
<rect x="387.57" y="349.90" width="5.80" height="5.80" fill="#000"/>
<rect x="412.20" y="337.30" width="5.80" height="5.80" fill="#000"/>
<rect x="434.67" y="326.70" width="5.80" height="5.80" fill="#000"/>
<rect x="459.30" y="300.60" width="5.80" height="5.80" fill="#000"/>
<rect x="481.77" y="288.00" width="5.80" height="5.80" fill="#000"/>
<rect x="317.40" y="356.50" width="6.00" height="6.00" fill="#000"/>
<polygon points="415.00,325.75 415.75,327.40 417.55,327.22 416.50,328.70 417.55,330.18 415.75,330.00 415.00,331.65 414.25,330.00 412.45,330.18 413.50,328.70 412.45,327.22 414.25,327.40" fill="#5c5c5c"/>
<polygon points="437.60,312.85 438.35,314.50 440.15,314.32 439.10,315.80 440.15,317.28 438.35,317.10 437.60,318.75 436.85,317.10 435.05,317.28 436.10,315.80 435.05,314.32 436.85,314.50" fill="#5c5c5c"/>
<polygon points="437.60,337.35 438.35,339.00 440.15,338.82 439.10,340.30 440.15,341.78 438.35,341.60 437.60,343.25 436.85,341.60 435.05,341.78 436.10,340.30 435.05,338.82 436.85,339.00" fill="#5c5c5c"/>
<polygon points="460.40,258.85 461.15,260.50 462.95,260.32 461.90,261.80 462.95,263.28 461.15,263.10 460.40,264.75 459.65,263.10 457.85,263.28 458.90,261.80 457.85,260.32 459.65,260.50" fill="#5c5c5c"/>
<polygon points="466.60,258.85 467.35,260.50 469.15,260.32 468.10,261.80 469.15,263.28 467.35,263.10 466.60,264.75 465.85,263.10 464.05,263.28 465.10,261.80 464.05,260.32 465.85,260.50" fill="#5c5c5c"/>
<polygon points="459.90,315.25 460.65,316.90 462.45,316.72 461.40,318.20 462.45,319.68 460.65,319.50 459.90,321.15 459.15,319.50 457.35,319.68 458.40,318.20 457.35,316.72 459.15,316.90" fill="#5c5c5c"/>
<polygon points="466.10,315.25 466.85,316.90 468.65,316.72 467.60,318.20 468.65,319.68 466.85,319.50 466.10,321.15 465.35,319.50 463.55,319.68 464.60,318.20 463.55,316.72 465.35,316.90" fill="#5c5c5c"/>
<polygon points="482.10,233.45 482.85,235.10 484.65,234.93 483.60,236.40 484.65,237.88 482.85,237.70 482.10,239.35 481.35,237.70 479.55,237.88 480.60,236.40 479.55,234.93 481.35,235.10" fill="#5c5c5c"/>
<polygon points="488.10,233.45 488.85,235.10 490.65,234.93 489.60,236.40 490.65,237.88 488.85,237.70 488.10,239.35 487.35,237.70 485.55,237.88 486.60,236.40 485.55,234.93 487.35,235.10" fill="#5c5c5c"/>
<polygon points="482.00,306.95 482.75,308.60 484.55,308.42 483.50,309.90 484.55,311.38 482.75,311.20 482.00,312.85 481.25,311.20 479.45,311.38 480.50,309.90 479.45,308.42 481.25,308.60" fill="#5c5c5c"/>
<polygon points="488.10,306.95 488.85,308.60 490.65,308.42 489.60,309.90 490.65,311.38 488.85,311.20 488.10,312.85 487.35,311.20 485.55,311.38 486.60,309.90 485.55,308.42 487.35,308.60" fill="#5c5c5c"/>
</svg>
</body></html>
